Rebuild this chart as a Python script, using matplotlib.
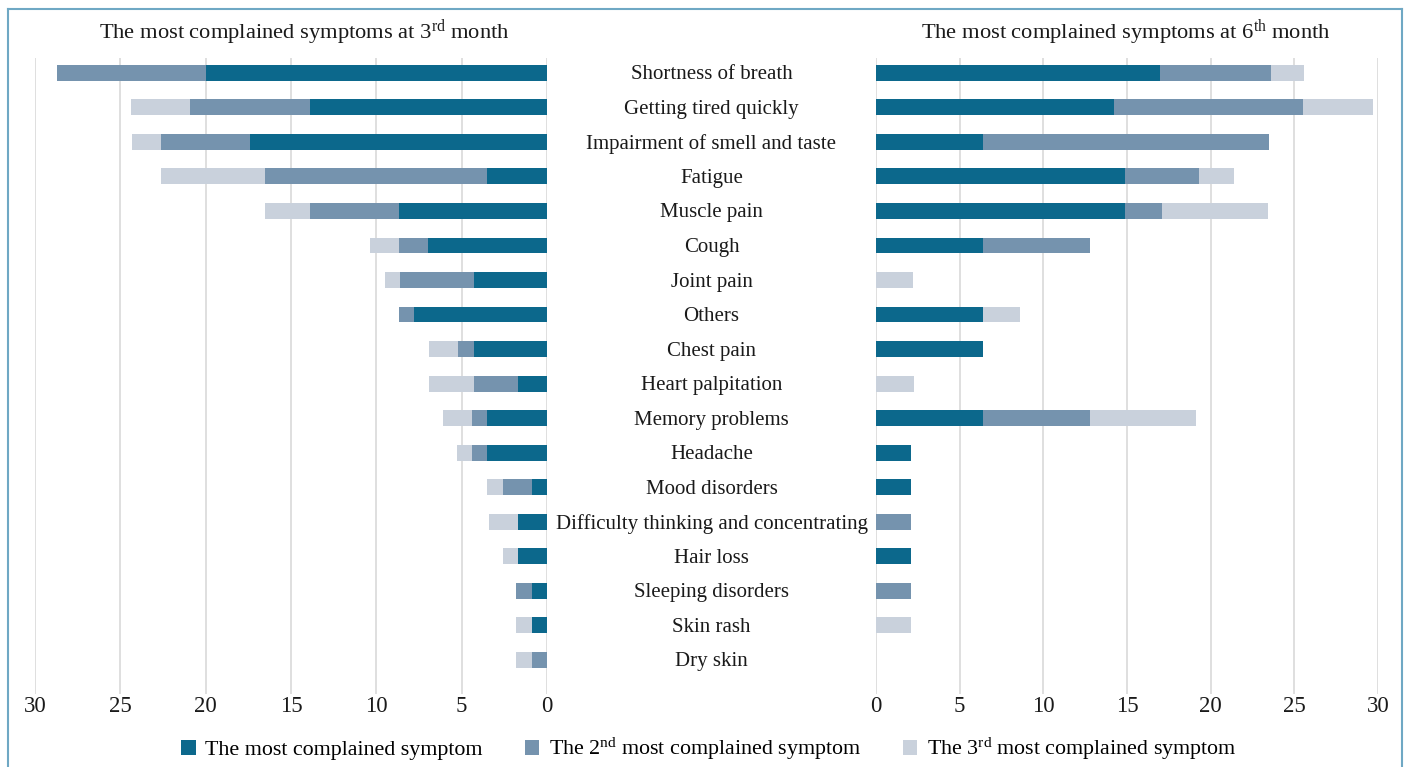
import matplotlib
matplotlib.use("Agg")
import matplotlib.pyplot as plt
import numpy as np
from matplotlib.patches import Patch
from matplotlib.transforms import blended_transform_factory, offset_copy
from matplotlib.lines import Line2D

plt.rcParams['font.family'] = ['Liberation Serif', 'DejaVu Serif']
plt.rcParams['mathtext.fontset'] = 'custom'
plt.rcParams['mathtext.rm'] = 'Liberation Serif'
plt.rcParams['mathtext.it'] = 'Liberation Serif:italic'
plt.rcParams['mathtext.bf'] = 'Liberation Serif:bold'

categories = ["Shortness of breath", "Getting tired quickly", "Impairment of smell and taste",
              "Fatigue", "Muscle pain", "Cough", "Joint pain", "Others", "Chest pain",
              "Heart palpitation", "Memory problems", "Headache", "Mood disorders",
              "Difficulty thinking and concentrating", "Hair loss", "Sleeping disorders",
              "Skin rash", "Dry skin"]

# 3rd month (%)
m3_first  = [20.0, 13.9, 17.4, 3.5, 8.7, 7.0, 4.3, 7.8, 4.3, 1.7, 3.5, 3.5, 0.9, 1.7, 1.7, 0.9, 0.9, 0.0]
m3_second = [8.7, 7.0, 5.2, 13.0, 5.2, 1.7, 4.3, 0.9, 0.9, 2.6, 0.9, 0.9, 1.7, 0.0, 0.0, 0.9, 0.0, 0.9]
m3_third  = [0.0, 3.5, 1.7, 6.1, 2.6, 1.7, 0.9, 0.0, 1.7, 2.6, 1.7, 0.9, 0.9, 1.7, 0.9, 0.0, 0.9, 0.9]

# 6th month (%)
m6_first  = [17.0, 14.2, 6.4, 14.9, 14.9, 6.4, 0.0, 6.4, 6.4, 0.0, 6.4, 2.1, 2.1, 0.0, 2.1, 0.0, 0.0, 0.0]
m6_second = [6.6, 11.3, 17.1, 4.4, 2.2, 6.4, 0.0, 0.0, 0.0, 0.0, 6.4, 0.0, 0.0, 2.1, 0.0, 2.1, 0.0, 0.0]
m6_third  = [2.0, 4.2, 0.0, 2.1, 6.3, 0.0, 2.2, 2.2, 0.0, 2.3, 6.3, 0.0, 0.0, 0.0, 0.0, 0.0, 2.1, 0.0]

ticks = [0, 5, 10, 15, 20, 25, 30]
series_labels = ["The most complained symptom",
                 r"The 2$^{\rm nd}$ most complained symptom",
                 r"The 3$^{\rm rd}$ most complained symptom"]
titles = [r"The most complained symptoms at 3$^{\rm rd}$ month",
          r"The most complained symptoms at 6$^{\rm th}$ month"]

colors = ["#0C688C", "#7593AE", "#C9D1DC"]

W, H = 1410, 767
fig = plt.figure(figsize=(W / 100, H / 100), dpi=100)

def fx(px):
    return px / W

def fy(py):
    return 1 - py / H

ax_top, ax_bot = 58, 694
axL = fig.add_axes([fx(35), fy(ax_bot), fx(547) - fx(35), (ax_bot - ax_top) / H])
axR = fig.add_axes([fx(876), fy(ax_bot), fx(1378) - fx(876), (ax_bot - ax_top) / H])

y = np.arange(len(categories))
bh = 0.46
for ax, data in ((axL, (m3_first, m3_second, m3_third)), (axR, (m6_first, m6_second, m6_third))):
    left = np.zeros(len(categories))
    for vals, c in zip(data, colors):
        v = np.array(vals)
        ax.barh(y, v, left=left, height=bh, color=c, zorder=3)
        left = left + v
    ax.set_xlim(0, 30)
    ax.set_ylim(17.99, -0.43)
    ax.set_xticks(ticks)
    ax.set_xticklabels([str(t) for t in ticks], fontsize=16.5, color='#1a1a1a')
    ax.set_yticks([])
    ax.tick_params(axis='x', length=0, pad=1.5)
    for s in ax.spines.values():
        s.set_visible(False)
    ax.grid(axis='x', color='#D9D9D9', linewidth=1.2, zorder=0)
    ax.set_axisbelow(True)

axL.invert_xaxis()

trans = blended_transform_factory(fig.transFigure, axL.transData)
trans = offset_copy(trans, fig=fig, x=0, y=-2, units='dots')
for i, cat in enumerate(categories):
    axL.text(fx(711.5), i, cat, transform=trans, ha='center', va='center',
             fontsize=15, color='#1a1a1a', clip_on=False)

fig.text(fx(304), fy(33), titles[0], ha='center', va='center', fontsize=16.2, color='#1a1a1a')
fig.text(fx(1126), fy(33), titles[1], ha='center', va='center', fontsize=16.2, color='#1a1a1a')

handles = [Patch(facecolor=c, edgecolor='none') for c in colors]
fig.legend(handles, series_labels, loc='center', bbox_to_anchor=(fx(709), fy(749)),
           ncol=3, frameon=False, fontsize=15.8, handlelength=0.65, handleheight=0.65,
           handletextpad=0.45, columnspacing=1.9)

frame_c = "#6FA8C4"
fig.add_artist(Line2D([fx(7.5), fx(7.5)], [fy(8.5), 0], color=frame_c, lw=1.5))
fig.add_artist(Line2D([fx(1402), fx(1402)], [fy(8.5), 0], color=frame_c, lw=1.5))
fig.add_artist(Line2D([fx(7.5), fx(1402)], [fy(8.5), fy(8.5)], color=frame_c, lw=1.5))

fig.savefig("out.png", dpi=100)
